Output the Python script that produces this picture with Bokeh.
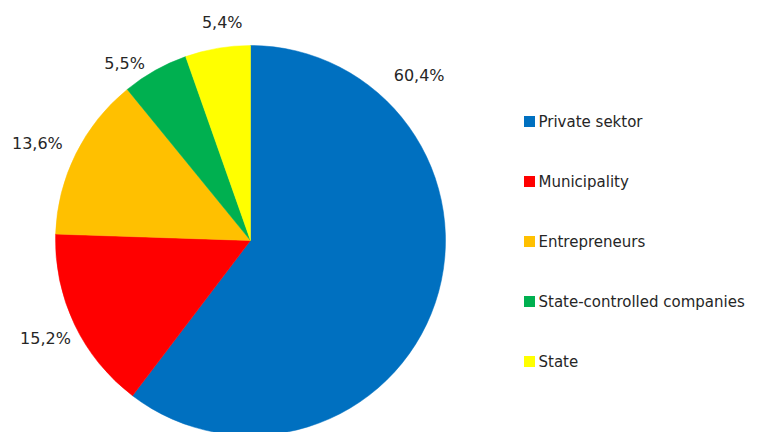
import math
from bokeh.plotting import figure
from bokeh.models import Range1d, ColumnDataSource
from bokeh.core.properties import value
from bokeh.embed import file_html
from bokeh.resources import INLINE

# ---- data ----
categories = ["Private sektor", "Municipality", "Entrepreneurs",
              "State-controlled companies", "State"]
shares = [60.4, 15.2, 13.6, 5.5, 5.4]
colors = ["#0070C0", "#FF0000", "#FFC000", "#00B050", "#FFFF00"]

# ---- layout constants ----
W, H = 750, 432
CX, CY = 250, 192          # pie centre (data units = pixels)
R = 195
label_frac = [0.21, 0.5, 0.46, 0.19, 0.62]   # where along the slice the label sits
label_rad = [236, 227, 234, 217, 220]
LEG_X, LEG_Y0, LEG_DY = 521, 311, 60
FONT = "DejaVu Sans"
TXT = "#262626"

total = sum(shares)
starts, ends = [], []
acc = 0.0
for v in shares:
    starts.append(acc / total * 360.0)
    acc += v
    ends.append(acc / total * 360.0)

src = ColumnDataSource(dict(
    start=[math.pi / 2 - math.radians(e) for e in ends],
    end=[math.pi / 2 - math.radians(s) for s in starts],
    color=colors,
))

p = figure(width=W, height=H, output_backend="svg", toolbar_location=None,
           x_range=Range1d(0, W), y_range=Range1d(0, H), min_border=0)
p.axis.visible = False
p.grid.visible = False
p.outline_line_color = None
p.background_fill_color = "white"

p.wedge(x=CX, y=CY, radius=R, start_angle="start", end_angle="end",
        fill_color="color", line_color="color", line_width=0.5, source=src)

# percentage labels
lx, ly, lt = [], [], []
for i, v in enumerate(shares):
    th = math.radians(starts[i] + label_frac[i] * (ends[i] - starts[i]))
    lx.append(CX + label_rad[i] * math.sin(th))
    ly.append(CY + label_rad[i] * math.cos(th))
    lt.append(f"{v:.1f}".replace(".", ",") + "%")
p.text(x=lx, y=ly, text=lt, text_font=value(FONT), text_font_size="16px",
       text_color=TXT, text_align="center", text_baseline="middle")

# legend
gy = [LEG_Y0 - i * LEG_DY for i in range(len(categories))]
p.scatter(x=[LEG_X + 8] * len(categories), y=gy, marker="square", size=11,
          fill_color=colors, line_color=None)
p.text(x=[LEG_X + 17] * len(categories), y=gy, text=categories,
       text_font=value(FONT), text_font_size="15px", text_color=TXT,
       text_align="left", text_baseline="middle")

open("out.html", "w").write(file_html(p, INLINE))
